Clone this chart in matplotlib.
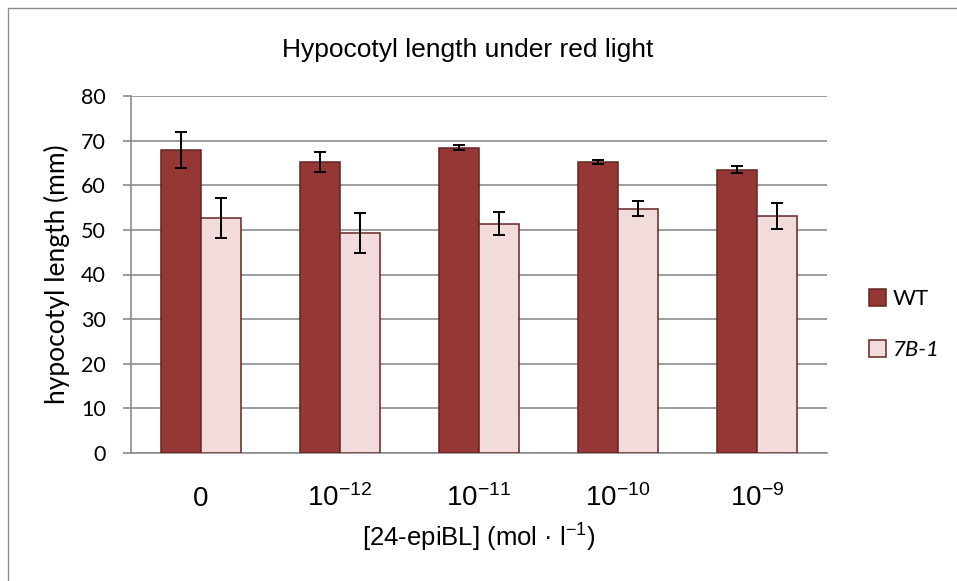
import numpy as np
import matplotlib as mpl
import matplotlib.pyplot as plt
from matplotlib.patches import Rectangle

# hypocotyl length (mm), mean and error for each treatment
doses = ['0', '10^{-12}', '10^{-11}', '10^{-10}', '10^{-9}']
wt = [67.9, 65.2, 68.4, 65.2, 63.5]
wt_err = [4.0, 2.2, 0.6, 0.4, 0.8]
mut = [52.7, 49.3, 51.4, 54.7, 53.1]
mut_err = [4.5, 4.4, 2.6, 1.7, 3.0]

wt_color = '#953735'
mut_color = '#F2DCDB'
edge_color = '#632523'
grid_color = '#8C8C8C'
arial = ['Liberation Sans', 'DejaVu Sans']
calibri = ['Lato', 'DejaVu Sans']

W, H = 957, 581
fig = plt.figure(figsize=(W/100, H/100), dpi=100)
ax = fig.add_axes([131/W, 1-453/H, (827-131)/W, (453-96)/H])

x = np.arange(len(doses))
w = 0.288
ax.bar(x - w/2, wt, w, color=wt_color, edgecolor=edge_color, linewidth=1.1,
       label='WT', zorder=3)
ax.bar(x + w/2, mut, w, color=mut_color, edgecolor=edge_color, linewidth=1.1,
       label='7B-1', zorder=3)
ax.errorbar(x - w/2, wt, yerr=wt_err, fmt='none', ecolor='black',
            elinewidth=1.4, capsize=4.2, capthick=1.4, zorder=4)
ax.errorbar(x + w/2, mut, yerr=mut_err, fmt='none', ecolor='black',
            elinewidth=1.4, capsize=4.2, capthick=1.4, zorder=4)

ax.set_xlim(-0.5, 4.5)
ax.set_ylim(0, 80)
ax.set_yticks(range(0, 81, 10))
ax.yaxis.grid(True, color=grid_color, linewidth=1.2, zorder=0)
ax.set_axisbelow(True)
for s in ['top', 'right']:
    ax.spines[s].set_visible(False)
for s in ['left', 'bottom']:
    ax.spines[s].set_color(grid_color)
    ax.spines[s].set_linewidth(1.2)
ax.tick_params(axis='y', length=6, width=1.2, color=grid_color, pad=12,
               labelsize=15.5)
for t in ax.get_yticklabels():
    t.set_fontfamily(calibri)

# x tick labels sit on a common baseline below the axis
ax.set_xticks(x)
ax.set_xticklabels(['$\\mathregular{%s}$' % d for d in doses], fontsize=20,
                   fontfamily=arial, va='baseline')
ax.tick_params(axis='x', length=0, pad=38)

ax.set_xlabel('[24-epiBL] (mol · l$\\mathregular{^{-1}}$)', fontsize=18.5,
              fontfamily=arial, va='baseline')
ax.xaxis.set_label_coords(0.5, (453-547)/357)
ax.set_ylabel('hypocotyl length (mm)', fontsize=19, fontfamily=calibri)
ax.yaxis.set_label_coords((70-131)/696, 0.5)

fig.text(468/W, 1-57/H, 'Hypocotyl length under red light', fontsize=19,
         ha='center', va='baseline', fontfamily=arial)

leg = ax.legend(loc='upper left', bbox_to_anchor=(869/W, 1-289/H),
                bbox_transform=fig.transFigure, frameon=False,
                borderpad=0, borderaxespad=0,
                handlelength=0.78, handleheight=0.78, handletextpad=0.3,
                labelspacing=1.4, prop={'family': 'Lato', 'size': 16})
leg.get_texts()[1].set_fontstyle('italic')

# chart frame, only the top and left edges fall inside the image
fig.patches.append(Rectangle((8/W, -0.05), 1.2, 1-8/H + 0.05,
                             transform=fig.transFigure, fill=False,
                             edgecolor=grid_color, linewidth=1.0))

fig.savefig('out.png', dpi=100)
